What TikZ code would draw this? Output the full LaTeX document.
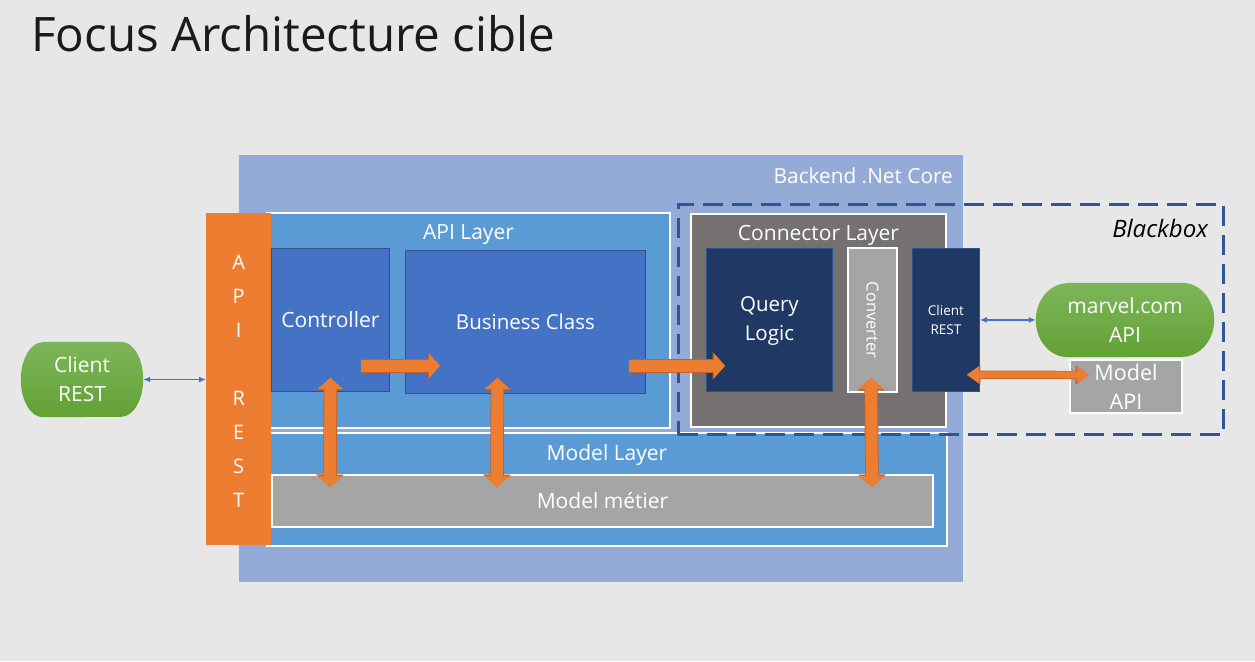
\documentclass[tikz,border=0pt]{standalone}
\usepackage{fontspec}
\setmainfont{Open Sans}
\usetikzlibrary{arrows.meta,calc}
\definecolor{bgc}{HTML}{E7E7E7}
\definecolor{backendc}{HTML}{93ABD6}
\definecolor{layerc}{HTML}{5B9BD5}
\definecolor{ctrlc}{HTML}{4472C4}
\definecolor{blueborder}{HTML}{2F528F}
\definecolor{navyc}{HTML}{203864}
\definecolor{connc}{HTML}{767171}
\definecolor{grayc}{HTML}{A5A5A5}
\definecolor{orng}{HTML}{ED7D31}
\definecolor{orngdark}{HTML}{C0602A}
\definecolor{dashc}{HTML}{2F5597}
\definecolor{blueline}{HTML}{4472C4}
\definecolor{greentop}{HTML}{7DB65A}
\definecolor{greenbot}{HTML}{62A134}
\definecolor{titlec}{HTML}{1A1A1A}
\begin{document}
\begin{tikzpicture}[x=1pt,y=-1pt,
  box/.style={rectangle, inner sep=0pt, anchor=north west, text=white},
  wbox/.style={box, draw=white, line width=2pt},
  bbox/.style={box, draw=blueborder, line width=0.8pt},
  lbl/.style={text=white, inner sep=0pt, font=\fontsize{21}{24}\selectfont},
  mtxt/.style={text=white, inner sep=0pt, align=center, font=\fontsize{21}{29}\selectfont},
  pillnode/.style={rectangle, inner sep=0pt},
  oarrow/.style={draw=orng, line width=12pt, -{Triangle[width=24pt,length=11pt]},
    preaction={draw=orngdark, line width=13.6pt, -{Triangle[width=27pt,length=12.5pt]}}},
  odarrow/.style={draw=orng, line width=12pt, {Triangle[width=24pt,length=11pt]}-{Triangle[width=24pt,length=11pt]},
    preaction={draw=orngdark, line width=13.6pt, {Triangle[width=27pt,length=12.5pt]}-{Triangle[width=27pt,length=12.5pt]}}},
  osarrow/.style={draw=orng, line width=7pt, {Triangle[width=16pt,length=12pt]}-{Triangle[width=16pt,length=12pt]},
    preaction={draw=orngdark, line width=8.4pt, {Triangle[width=18.5pt,length=13.5pt]}-{Triangle[width=18.5pt,length=13.5pt]}}},
  barrow/.style={draw=blueline, line width=1.3pt, {Latex[length=7pt,width=6pt]}-{Latex[length=7pt,width=6pt]}}
]
\fill[bgc] (0,0) rectangle (1255,661);
\useasboundingbox (0,0) rectangle (1255,661);

% title
\node[anchor=base west, inner sep=0pt, text=titlec, font=\fontsize{47.5}{52}\selectfont] (title) at (31,52) {Focus Architecture cible};

% backend
\node[box, fill=backendc, minimum width=724pt, minimum height=427pt] (backend) at (239,155) {};
\node[lbl, anchor=east, font=\fontsize{20.8}{24}\selectfont] (backendlbl) at (953,176) {Backend .Net Core};

% layers
\node[wbox, fill=layerc, minimum width=403pt, minimum height=215pt] (apil) at (266,212) {};
\node[lbl] (apilbl) at ($(apil.north)+(0,22)$) {API Layer};
\node[wbox, fill=layerc, minimum width=680pt, minimum height=113pt] (modl) at (266,432) {};
\node[lbl] (modlbl) at ($(modl.north)+(0,23)$) {Model Layer};
\node[wbox, fill=grayc, minimum width=661pt, minimum height=52pt, font=\fontsize{21}{24}\selectfont] (metier) at (271,474) {Model métier};

\node[bbox, fill=ctrlc, minimum width=118pt, minimum height=143pt, font=\fontsize{21}{24}\selectfont] (ctrl) at (271,248) {Controller};
\node[bbox, fill=ctrlc, minimum width=240pt, minimum height=143pt, font=\fontsize{20.5}{24}\selectfont] (biz) at (405,250) {Business Class};

\node[wbox, fill=connc, minimum width=255pt, minimum height=213pt] (connl) at (690,213) {};
\node[lbl] (connlbl) at ($(connl.north)+(0,22)$) {Connector Layer};
\node[bbox, fill=navyc, minimum width=126pt, minimum height=143pt] (query) at (706,248) {};
\node[mtxt, font=\fontsize{20.5}{29}\selectfont] (querytxt) at ($(query.center)+(0,1)$) {Query\\Logic};
\node[wbox, fill=grayc, minimum width=49pt, minimum height=144pt] (conv) at (847,247) {};
\node[lbl, rotate=-90, font=\fontsize{16.5}{19}\selectfont] (convtxt) at (conv.center) {Converter};
\node[bbox, fill=navyc, minimum width=67pt, minimum height=143pt] (crest) at (912,248) {};
\node[text=white, inner sep=0pt, align=center, font=\fontsize{13.5}{19}\selectfont] (cresttxt) at (crest.center) {Client\\REST};

% API REST bar
\node[box, fill=orng, minimum width=65pt, minimum height=332pt] (apirest) at (206,213) {};
\node[text=white, inner sep=0pt, align=center, font=\fontsize{20}{34}\selectfont] (apiresttxt) at ($(apirest.center)+(0,2)$) {A\\P\\I\\[34pt]R\\E\\S\\T};

% Model API
\node[wbox, fill=grayc, minimum width=112pt, minimum height=53pt] (mapi) at (1069,359) {};
\node[mtxt, font=\fontsize{21.5}{29}\selectfont] (mapitxt) at (mapi.center) {Model\\API};

% Blackbox dashed
\node[box, draw=dashc, line width=3pt, dash pattern=on 20pt off 9pt, minimum width=545.5pt, minimum height=230pt] (bb) at (676.5,203) {};
\node[anchor=east, inner sep=0pt, text=black, font=\itshape\fontsize{24}{27}\selectfont] (bblbl) at (1208,228) {Blackbox};

% pills
\node[pillnode, minimum width=122pt, minimum height=75pt] (cli) at (82,379.5) {};
\shade[top color=greentop, bottom color=greenbot]
  ($(cli.north west)+(22,0)$) -- ($(cli.north east)+(-22,0)$)
  arc[start angle=-90, end angle=90, x radius=22, y radius=37.5]
  -- ($(cli.south west)+(22,0)$)
  arc[start angle=90, end angle=270, x radius=22, y radius=37.5] -- cycle;
\node[mtxt] (clitxt) at (cli.center) {Client\\REST};

\node[pillnode, minimum width=178pt, minimum height=74pt] (marvel) at (1125,320) {};
\shade[top color=greentop, bottom color=greenbot]
  ($(marvel.north west)+(32,0)$) -- ($(marvel.north east)+(-32,0)$)
  arc[start angle=-90, end angle=90, x radius=32, y radius=37]
  -- ($(marvel.south west)+(32,0)$)
  arc[start angle=90, end angle=270, x radius=32, y radius=37] -- cycle;
\node[mtxt] (marveltxt) at (marvel.center) {marvel.com\\API};

% orange arrows
\draw[oarrow] ($(ctrl.south east)+(-29,-26)$) -- ($(biz.south west)+(35,-28)$);
\draw[oarrow] ($(biz.south east)+(-17,-28)$) -- ($(query.south west)+(19,-26)$);
\draw[odarrow] ($(ctrl.south)+(0,-14)$) -- ($(metier.north west)+(59,13)$);
\draw[odarrow] ($(biz.south)+(-28,-16)$) -- ($(metier.north west)+(226,13)$);
\draw[odarrow] ($(conv.south)+(-1.5,-15)$) -- ($(metier.north east)+(-62,13)$);
\draw[osarrow] ($(crest.south east)+(-13,-17)$) -- ($(mapi.west)+(20,-11.5)$);

% blue arrows
\draw[barrow] (cli.east) -- (cli.east -| apirest.west);
\draw[barrow] (crest.east) -- (crest.east -| marvel.west);
\end{tikzpicture}
\end{document}
